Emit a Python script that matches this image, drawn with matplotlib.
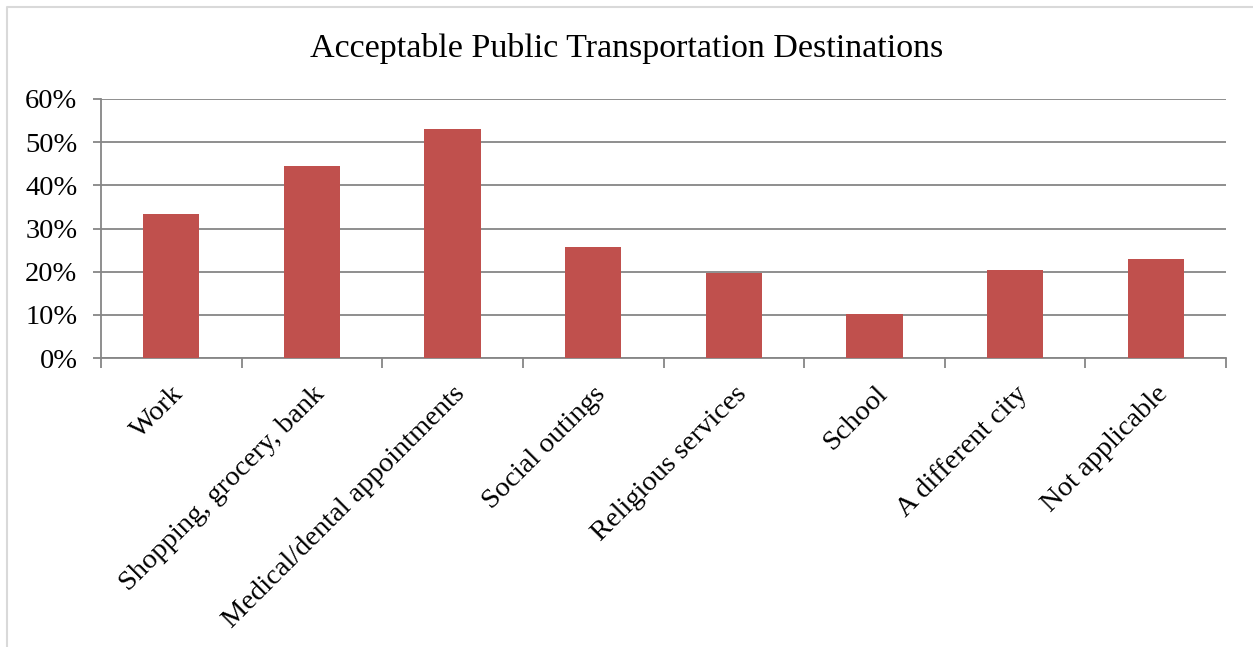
import numpy as np
import matplotlib.pyplot as plt
from matplotlib.lines import Line2D
from matplotlib.ticker import PercentFormatter

# data
categories = ['Work', 'Shopping, grocery, bank', 'Medical/dental appointments',
              'Social outings', 'Religious services', 'School',
              'A different city', 'Not applicable']
values = [33.3, 44.4, 53.0, 25.6, 19.6, 10.2, 20.5, 23.0]
yticks = [0, 10, 20, 30, 40, 50, 60]

plt.rcParams['font.family'] = ['Liberation Serif', 'DejaVu Serif']

fig = plt.figure(figsize=(12.53, 6.47), dpi=100)
ax = fig.add_axes([101/1253, 1 - 358/647, 1125/1253, 259/647])

x = np.arange(len(categories))
ax.bar(x, values, width=0.4, color='#C0504D', zorder=3)

ax.set_xlim(-0.5, len(categories) - 0.5)
ax.set_ylim(0, 60)
ax.set_yticks(yticks)
ax.yaxis.set_major_formatter(PercentFormatter(decimals=0))
ax.grid(axis='y', color='#868686', linewidth=1.3, zorder=0)

ax.set_xticks(x)
ax.set_xticklabels(categories, rotation=45, ha='right', rotation_mode='anchor',
                   fontsize=20.5)
ax.set_xticks(np.arange(-0.5, len(categories)), minor=True)
ax.tick_params(axis='x', which='major', length=0, pad=17)
ax.tick_params(axis='x', which='minor', length=7, width=1.3, color='#868686')
ax.tick_params(axis='y', length=6, width=1.3, color='#868686', pad=11, labelsize=20.5)

for side in ['top', 'right']:
    ax.spines[side].set_visible(False)
for side in ['left', 'bottom']:
    ax.spines[side].set_color('#868686')
    ax.spines[side].set_linewidth(1.3)

fig.text(627/1253, 1 - 48/647, 'Acceptable Public Transportation Destinations',
         ha='center', va='center', fontsize=24.5)

# light frame of the chart area (top and left edges)
fig.add_artist(Line2D([6.5/1253, 6.5/1253, 1], [0, 1 - 6.5/647, 1 - 6.5/647],
                      color='#d9d9d9', linewidth=1.5, transform=fig.transFigure))

fig.savefig('out.png', dpi=100)
